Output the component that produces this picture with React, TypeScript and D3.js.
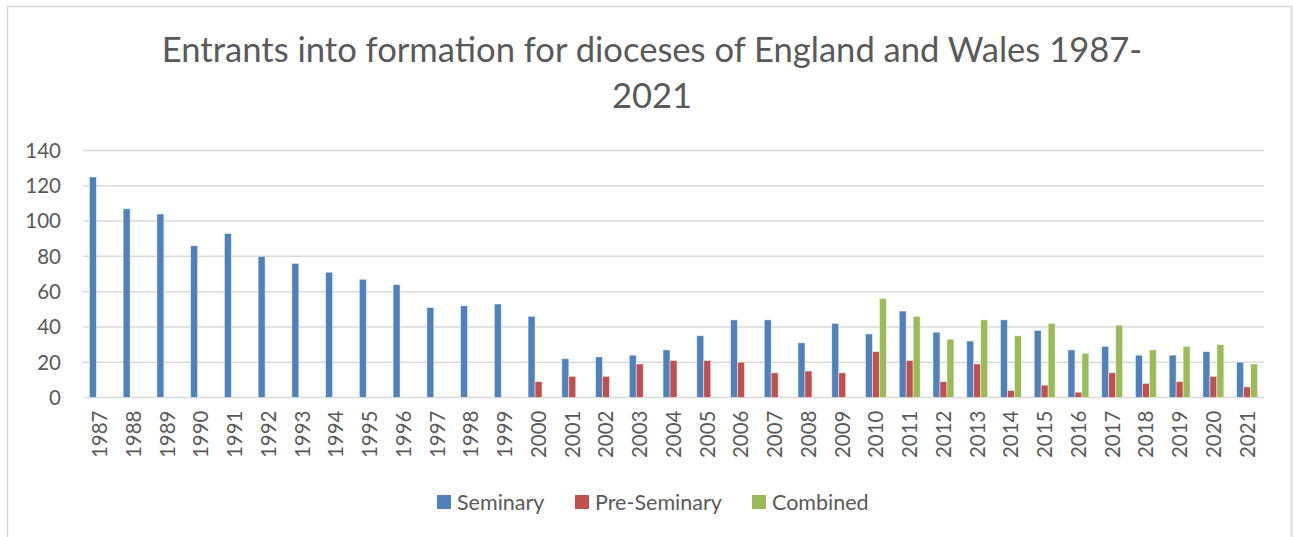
import React, { useEffect, useRef } from 'react';
import * as d3 from 'd3';

// Anos do gráfico
const years = [
  '1987', '1988', '1989', '1990', '1991', '1992', '1993', '1994', '1995', '1996', '1997', '1998',
  '1999', '2000', '2001', '2002', '2003', '2004', '2005', '2006', '2007', '2008', '2009', '2010',
  '2011', '2012', '2013', '2014', '2015', '2016', '2017', '2018', '2019', '2020', '2021',
];

const seminary = [
  125, 107, 104, 86, 93, 80, 76, 71, 67, 64, 51, 52, 53, 46, 22, 23, 24, 27, 35, 44, 44, 31, 42,
  36, 49, 37, 32, 44, 38, 27, 29, 24, 24, 26, 20,
];

const preSeminary = [
  null, null, null, null, null, null, null, null, null, null, null, null, null,
  9, 12, 12, 19, 21, 21, 20, 14, 15, 14, 26, 21, 9, 19, 4, 7, 3, 14, 8, 9, 12, 6,
];

const combined = [
  null, null, null, null, null, null, null, null, null, null, null, null, null, null, null, null,
  null, null, null, null, null, null, null, 56, 46, 33, 44, 35, 42, 25, 41, 27, 29, 30, 19,
];

const seriesNames = ['Seminary', 'Pre-Seminary', 'Combined'];
const seriesColors = ['#4F81BD', '#C0504D', '#9BBB59'];
const yTicks = [0, 20, 40, 60, 80, 100, 120, 140];

const titleLines = ['Entrants into formation for dioceses of England and Wales 1987-', '2021'];

const FONT = 'Lato, "Open Sans", sans-serif';
const TEXT = '#595959';
const GRID = '#D9D9D9';

const App = () => {
  const chartRef = useRef(null);

  useEffect(() => {
    const W = 1293;
    const H = 537;
    const plot = { left: 83, right: 1264, top: 150.5, bottom: 397.5 };

    const svg = d3.select(chartRef.current);
    svg.selectAll('*').remove();
    svg.attr('width', W).attr('height', H);

    // moldura
    svg.append('rect')
      .attr('x', 7.5).attr('y', 6.5)
      .attr('width', 1284).attr('height', 560)
      .attr('fill', '#fff')
      .attr('stroke', GRID)
      .attr('stroke-width', 1.5);

    // título
    svg.append('g')
      .selectAll('text')
      .data(titleLines)
      .enter().append('text')
      .attr('x', 652)
      .attr('y', (d, i) => 62 + i * 46)
      .attr('text-anchor', 'middle')
      .attr('font-family', FONT)
      .attr('font-size', 34.6)
      .attr('fill', TEXT)
      .text(d => d);

    const x0 = d3.scaleBand()
      .domain(years)
      .range([plot.left, plot.right])
      .paddingInner(0.38)
      .paddingOuter(0.19);

    const x1 = d3.scaleBand()
      .domain(seriesNames)
      .range([0, x0.bandwidth()]);

    const y = d3.scaleLinear()
      .domain([0, 140])
      .range([plot.bottom, plot.top]);

    // linhas de grade
    svg.append('g')
      .selectAll('line')
      .data(yTicks)
      .enter().append('line')
      .attr('x1', plot.left).attr('x2', plot.right)
      .attr('y1', d => y(d)).attr('y2', d => y(d))
      .attr('stroke', GRID)
      .attr('stroke-width', 1.5);

    // rótulos do eixo y
    svg.append('g')
      .selectAll('text')
      .data(yTicks)
      .enter().append('text')
      .attr('x', 61)
      .attr('y', d => y(d))
      .attr('dy', '0.36em')
      .attr('text-anchor', 'end')
      .attr('font-family', FONT)
      .attr('font-size', 20.5)
      .attr('fill', TEXT)
      .text(d => d);

    const allSeries = [seminary, preSeminary, combined];
    const bars = [];
    allSeries.forEach((values, s) => {
      values.forEach((v, i) => {
        if (v === null) return;
        bars.push({ year: years[i], series: seriesNames[s], color: seriesColors[s], value: v });
      });
    });

    svg.append('g')
      .selectAll('rect')
      .data(bars)
      .enter().append('rect')
      .attr('x', d => x0(d.year) + x1(d.series))
      .attr('y', d => y(d.value))
      .attr('width', x1.bandwidth())
      .attr('height', d => y(0) - y(d.value))
      .attr('fill', d => d.color)
      .attr('stroke', '#fff')
      .attr('stroke-opacity', 0.6)
      .attr('stroke-width', 0.8);

    // rótulos do eixo x (rotacionados)
    svg.append('g')
      .selectAll('text')
      .data(years)
      .enter().append('text')
      .attr('transform', d => `translate(${x0(d) + x0.bandwidth() / 2},${plot.bottom + 13}) rotate(-90)`)
      .attr('dy', '0.36em')
      .attr('text-anchor', 'end')
      .attr('font-family', FONT)
      .attr('font-size', 20.5)
      .attr('fill', TEXT)
      .text(d => d);

    // legenda
    const legendX = [437, 575, 752];
    const legend = svg.append('g')
      .selectAll('g')
      .data(seriesNames)
      .enter().append('g')
      .attr('transform', (d, i) => `translate(${legendX[i]},495)`);

    legend.append('rect')
      .attr('width', 14).attr('height', 14)
      .attr('fill', (d, i) => seriesColors[i]);

    legend.append('text')
      .attr('x', 20)
      .attr('y', 7)
      .attr('dy', '0.36em')
      .attr('font-family', FONT)
      .attr('font-size', 21.5)
      .attr('fill', TEXT)
      .text(d => d);
  }, []);

  return (
    <svg ref={chartRef} style={{ position: 'absolute', left: 0, top: 0, display: 'block' }}></svg>
  );
};

export default App;
